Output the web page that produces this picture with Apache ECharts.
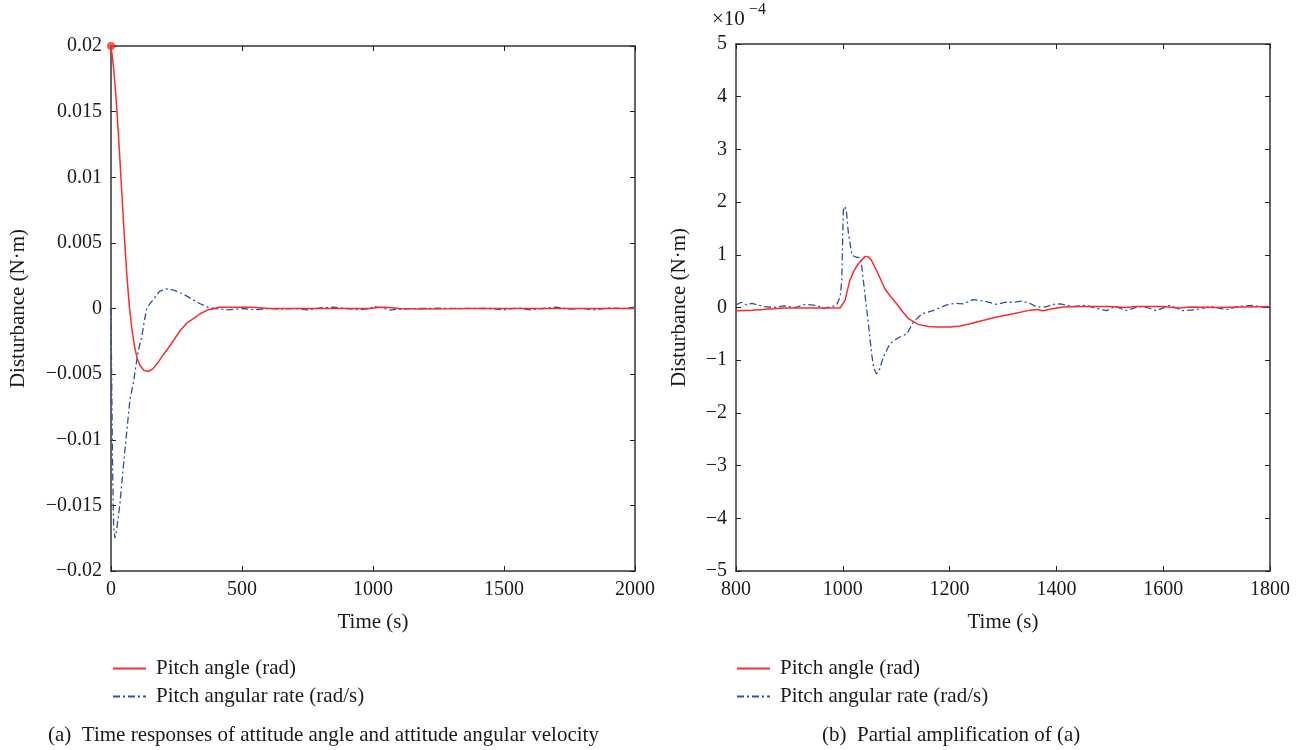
<!DOCTYPE html>
<html>
<head>
<meta charset="utf-8">
<script src="https://cdn.jsdelivr.net/npm/echarts@6/dist/echarts.min.js"></script>
<style>html,body{margin:0;padding:0;background:#fff;}#c{width:1303px;height:750px;}</style>
</head>
<body>
<div id="c"></div>
<script>
// ---------- Data ----------
// (a) full time response, values in rad / rad/s
var aAngleTime = [0,5,10,15,20,25,30,35,40,45,50,55,60,65,70,80,90,100,110,125,142,160,180,200,212,240,263,290,320,340,370,397,410,470,540,545,600,700,800,900,990,1010,1042,1070,1100,1180,1300,1400,1500,1600,1700,1800,1900,2000];
var aAngleVal  = [0.0200,0.0192,0.0183,0.0171,0.0158,0.0143,0.0127,0.0110,0.0093,0.0075,0.0058,0.0042,0.0027,0.0014,0.0002,-0.0016,-0.0029,-0.0038,-0.0043,-0.0047,-0.0048,-0.0046,-0.0041,-0.0035,-0.0032,-0.0024,-0.0017,-0.0011,-0.0007,-0.0004,-0.0001,0.0000,0.0001,0.0001,0.0001,0.0000,0.0000,0.0000,0.0000,0.0000,0.0000,0.00005,0.0001,0.00006,0.0000,-0.00004,-0.00002,0.0000,0.0000,0.0000,0.0000,0.0000,0.0000,0.0000];
var aRateTime  = [0,3,6,10,15,22,34,45,53,63,72,85,95,104,117,127,136,150,162,185,212,240,276,310,340,370,397,420,450,500,550,600,650,700,750,800,850,900,950,990,1001,1004,1017,1035,1048,1063,1088,1120,1148,1200,1250,1300,1350,1400,1450,1500,1550,1600,1650,1700,1750,1800,1850,1900,1950,2000];
var aRateVal   = [0.0000,-0.0060,-0.0120,-0.0165,-0.0175,-0.0168,-0.0149,-0.0125,-0.0108,-0.0088,-0.0070,-0.0057,-0.0044,-0.0032,-0.0022,-0.0010,0.0000,0.0004,0.0007,0.0013,0.0015,0.0014,0.0011,0.0007,0.00036,0.0001,0.0000,-0.00005,-0.0001,0.0000,-0.0001,0.0000,-0.00005,0.0000,-0.0001,0.00005,0.0001,0.0000,-0.0001,0.0000,0.00018,0.00019,0.0001,0.00008,-0.00003,-0.00013,-0.00007,-0.00005,-0.00001,0.00001,0.00002,0.00001,0.00001,0.0000,0.0000,-0.0001,0.00005,-0.0001,0.0000,0.0001,-0.00005,0.0000,-0.0001,0.00005,0.0000,0.0001];

// (b) partial amplification, values in units of 1e-4
var bAngleTime = [800,830,850,889,950,995,1004,1013,1020,1029,1042,1048,1054,1066,1079,1090,1101,1112,1123,1141,1160,1176,1201,1220,1238,1260,1288,1320,1351,1363,1375,1390,1413,1450,1500,1530,1550,1600,1630,1650,1700,1750,1800];
var bAngleVal  = [-0.06,-0.05,-0.04,-0.01,-0.01,-0.01,0.13,0.51,0.68,0.83,0.97,0.96,0.89,0.64,0.35,0.20,0.07,-0.08,-0.21,-0.32,-0.36,-0.37,-0.37,-0.35,-0.31,-0.25,-0.18,-0.12,-0.05,-0.04,-0.06,-0.03,0.01,0.02,0.02,0.00,0.02,0.02,-0.01,0.01,0.00,0.01,0.02];
var bRateTime  = [800,810,820,830,850,870,890,910,930,950,965,975,988,995,998,1001,1004,1007,1010,1017,1026,1032,1035,1042,1048,1054,1058,1063,1068,1076,1088,1100,1107,1120,1132,1148,1169,1195,1210,1226,1244,1265,1288,1305,1319,1335,1350,1363,1380,1395,1407,1430,1455,1470,1494,1510,1531,1555,1570,1587,1612,1637,1662,1690,1718,1740,1768,1790,1800];
var bRateVal   = [0.05,0.10,0.05,0.08,0.02,0.00,0.03,0.00,0.06,0.04,-0.02,0.01,0.04,0.20,0.50,1.84,1.92,1.80,1.46,0.99,0.95,0.95,0.83,0.20,-0.31,-0.88,-1.15,-1.26,-1.20,-0.94,-0.69,-0.60,-0.56,-0.50,-0.28,-0.12,-0.06,0.05,0.08,0.07,0.15,0.12,0.06,0.10,0.10,0.12,0.08,0.01,0.01,0.06,0.07,0.02,0.04,0.00,-0.06,0.02,-0.06,0.02,0.00,-0.06,0.04,-0.06,-0.04,0.02,-0.04,0.02,0.04,0.00,0.02];

var aXTicks = [0, 2000, 500];      // min, max, interval
var aYTicks = [-0.02, 0.02, 0.005];
var bXTicks = [800, 1800, 200];
var bYTicks = [-5, 5, 1];

var nameAngle = 'Pitch angle (rad)';
var nameRate = 'Pitch angular rate (rad/s)';

function zip(t, v) { return t.map(function (x, i) { return [x, v[i]]; }); }
function fmt(v) { return parseFloat(Number(v).toFixed(4)).toString().replace('-', '\u2212'); }

var FONT = 'Liberation Serif';
var TXT = '#1a1a1a';
var RED = '#ff2a2a';
var BLUE = '#2f4fa6';

function xAx(grid, r, pos, labels, name) {
  return {
    type: 'value', gridIndex: grid, position: pos, min: r[0], max: r[1], interval: r[2],
    axisLine: { show: true, onZero: false, lineStyle: { color: '#333', width: 1.5 } },
    axisTick: { show: true, inside: true, length: 5, lineStyle: { color: '#222' } },
    axisLabel: { show: labels, fontFamily: FONT, fontSize: 20, color: TXT, margin: 9, formatter: fmt },
    splitLine: { show: false },
    name: name || '', nameLocation: 'middle', nameGap: 41,
    nameTextStyle: { fontFamily: FONT, fontSize: 21, color: TXT }
  };
}
function yAx(grid, r, pos, labels, name, gap) {
  return {
    type: 'value', gridIndex: grid, position: pos, min: r[0], max: r[1], interval: r[2],
    axisLine: { show: true, onZero: false, lineStyle: { color: '#333', width: 1.5 } },
    axisTick: { show: true, inside: true, length: 5, lineStyle: { color: '#222' } },
    axisLabel: { show: labels, fontFamily: FONT, fontSize: 20, color: TXT, margin: 9, formatter: fmt },
    splitLine: { show: false },
    name: name || '', nameLocation: 'middle', nameGap: gap || 0,
    nameTextStyle: { fontFamily: FONT, fontSize: 21, color: TXT }
  };
}

function legendAt(left) {
  return {
    left: left, top: 658, orient: 'vertical', padding: 0,
    itemWidth: 33, itemHeight: 14, itemGap: 7,
    itemStyle: { opacity: 0 },
    textStyle: { fontFamily: FONT, fontSize: 21, color: TXT, padding: [0, 0, 0, 5] },
    data: [nameAngle, nameRate]
  };
}

var chart = echarts.init(document.getElementById('c'));
chart.setOption({
  animation: false,
  backgroundColor: '#fff',
  grid: [
    { left: 111, right: 668, top: 46, bottom: 179 },
    { left: 736, right: 33, top: 44, bottom: 179 }
  ],
  xAxis: [
    xAx(0, aXTicks, 'bottom', true, 'Time (s)'),
    xAx(0, aXTicks, 'top', false),
    xAx(1, bXTicks, 'bottom', true, 'Time (s)'),
    xAx(1, bXTicks, 'top', false)
  ],
  yAxis: [
    yAx(0, aYTicks, 'left', true, 'Disturbance (N\u00b7m)', 82),
    yAx(0, aYTicks, 'right', false),
    yAx(1, bYTicks, 'left', true, 'Disturbance (N\u00b7m)', 46),
    yAx(1, bYTicks, 'right', false)
  ],
  legend: [legendAt(112), legendAt(736)],
  series: [
    { name: nameRate, type: 'line', xAxisIndex: 0, yAxisIndex: 0, symbol: 'none',
      lineStyle: { color: BLUE, width: 1.3, type: [7, 3, 2, 3] }, itemStyle: { color: BLUE },
      data: zip(aRateTime, aRateVal) },
    { name: nameAngle, type: 'line', xAxisIndex: 0, yAxisIndex: 0, symbol: 'none',
      lineStyle: { color: RED, width: 1.5 }, itemStyle: { color: RED },
      data: zip(aAngleTime, aAngleVal) },
    { name: 'start', type: 'scatter', xAxisIndex: 0, yAxisIndex: 0, symbolSize: 8,
      itemStyle: { color: RED }, data: [[aAngleTime[0], aAngleVal[0]]] },
    { name: nameRate, type: 'line', xAxisIndex: 2, yAxisIndex: 2, symbol: 'none',
      lineStyle: { color: BLUE, width: 1.3, type: [7, 3, 2, 3] }, itemStyle: { color: BLUE },
      data: zip(bRateTime, bRateVal) },
    { name: nameAngle, type: 'line', xAxisIndex: 2, yAxisIndex: 2, symbol: 'none',
      lineStyle: { color: RED, width: 1.5 }, itemStyle: { color: RED },
      data: zip(bAngleTime, bAngleVal) }
  ],
  graphic: [
    { type: 'text', left: 712, top: 9, style: { text: '\u00d710', fontFamily: FONT, fontSize: 21, fill: TXT } },
    { type: 'text', left: 749, top: 2, style: { text: '\u22124', fontFamily: FONT, fontSize: 16, fill: TXT } },
    { type: 'text', left: 48, top: 725, style: { text: '(a)  Time responses of attitude angle and attitude angular velocity', fontFamily: FONT, fontSize: 21, fill: TXT } },
    { type: 'text', left: 822, top: 725, style: { text: '(b)  Partial amplification of (a)', fontFamily: FONT, fontSize: 21, fill: TXT } }
  ]
});
</script>
</body>
</html>
